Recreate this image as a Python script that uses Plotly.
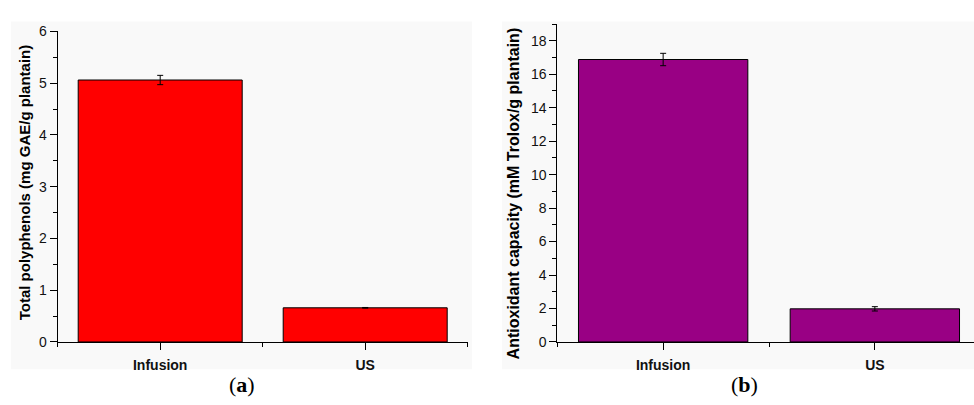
import plotly.graph_objects as go

# Extraction methods compared in both panels
methods = ["Infusion", "US"]

# Panel (a): total polyphenols, mg GAE / g plantain
polyphenols = [5.06, 0.66]
polyphenols_err = [0.09, 0.006]

# Panel (b): antioxidant capacity, mM Trolox / g plantain
antioxidant = [16.88, 1.98]
antioxidant_err = [0.37, 0.13]

W, H = 974, 405
RED = "#ff0000"
PURPLE = "#990084"
PANEL_BG = "#f9f9f9"
TICK_FONT = dict(family="Liberation Sans, Arial, sans-serif", size=14, color="#111111")
LABEL_FONT_A = dict(family="Liberation Sans, Arial, sans-serif", size=15, color="#000000")
LABEL_FONT_B = dict(family="Liberation Sans, Arial, sans-serif", size=16, color="#000000")
CAPTION_FONT = dict(family="Liberation Serif, Times New Roman, serif", size=22, color="#000000")

xpos = list(range(len(methods)))


def px_x(v):
    return v / W


def px_y(v):
    return 1 - v / H


fig = go.Figure()

fig.add_trace(go.Bar(
    x=xpos, y=polyphenols, width=0.8,
    marker=dict(color=RED, line=dict(color="#000000", width=1)),
    error_y=dict(type="data", array=polyphenols_err, color="#000000", thickness=1, width=3),
    xaxis="x", yaxis="y", showlegend=False,
))
fig.add_trace(go.Bar(
    x=xpos, y=antioxidant, width=0.8,
    marker=dict(color=PURPLE, line=dict(color="#000000", width=1)),
    error_y=dict(type="data", array=antioxidant_err, color="#000000", thickness=1, width=3),
    xaxis="x2", yaxis="y2", showlegend=False,
))

common_x = dict(
    showline=True, linecolor="#000000", linewidth=1, showgrid=False, zeroline=False,
    ticks="outside", ticklen=7, tickcolor="#000000", tickwidth=1,
    tickmode="array", tickvals=xpos,
    ticktext=["<b>%s</b>" % m for m in methods],
    tickfont=dict(family="Liberation Sans, Arial, sans-serif", size=14, color="#111111"),
    ticklabelstandoff=3,
    minor=dict(tickmode="array", tickvals=[-0.5, 0.5, 1.5], ticks="outside",
               ticklen=4, tickcolor="#000000", tickwidth=1),
    fixedrange=True,
)
common_y = dict(
    showline=True, linecolor="#000000", linewidth=1, showgrid=False, zeroline=False,
    ticks="outside", ticklen=7, tickcolor="#000000", tickwidth=1,
    tickfont=TICK_FONT, fixedrange=True,
)

fig.update_layout(
    width=W, height=H,
    margin=dict(l=0, r=0, t=0, b=0),
    paper_bgcolor="#ffffff",
    plot_bgcolor="rgba(0,0,0,0)",
    bargap=0.2,
    xaxis=dict(common_x, domain=[px_x(57.7), px_x(467.7)], range=[-0.5, 1.5], anchor="y"),
    yaxis=dict(common_y, domain=[px_y(347.7), px_y(24.3)], range=[0, 6], dtick=1,
               minor=dict(dtick=0.5, ticks="outside", ticklen=4, tickcolor="#000000"),
               anchor="x"),
    xaxis2=dict(common_x, domain=[px_x(557.3), 1.0],
                range=[-0.5, -0.5 + (W - 557.3) / 211.7], anchor="y2"),
    yaxis2=dict(common_y, domain=[px_y(347.7), px_y(16.7)], range=[0, 19], dtick=2,
                minor=dict(dtick=1, ticks="outside", ticklen=4, tickcolor="#000000"),
                anchor="x2"),
    shapes=[
        dict(type="rect", xref="paper", yref="paper", layer="below",
             x0=px_x(11), x1=px_x(472), y0=px_y(376), y1=px_y(14),
             fillcolor=PANEL_BG, line=dict(width=0)),
        dict(type="rect", xref="paper", yref="paper", layer="below",
             x0=px_x(502), x1=1.0, y0=px_y(376), y1=px_y(14),
             fillcolor=PANEL_BG, line=dict(width=0)),
    ],
    annotations=[
        dict(text="<b>Total polyphenols (mg GAE/g plantain)</b>", textangle=-90,
             xref="paper", yref="paper", x=px_x(24), y=px_y(181.5),
             showarrow=False, font=LABEL_FONT_A, xanchor="center", yanchor="middle"),
        dict(text="<b>Antioxidant capacity (mM Trolox/g plantain)</b>", textangle=-90,
             xref="paper", yref="paper", x=px_x(513), y=px_y(193),
             showarrow=False, font=LABEL_FONT_B, xanchor="center", yanchor="middle"),
        dict(text="(<b>a</b>)", xref="paper", yref="paper", x=px_x(242), y=px_y(392),
             showarrow=False, xanchor="center", yanchor="middle", font=CAPTION_FONT),
        dict(text="(<b>b</b>)", xref="paper", yref="paper", x=px_x(744), y=px_y(392),
             showarrow=False, xanchor="center", yanchor="middle", font=CAPTION_FONT),
    ],
)

fig.write_html("out.html")
